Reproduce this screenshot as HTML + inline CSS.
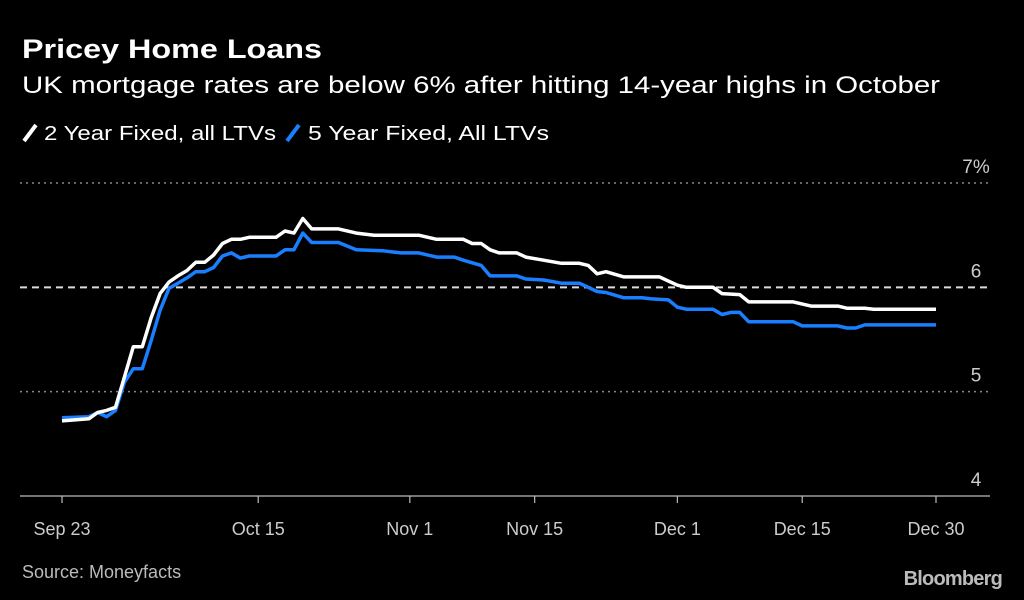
<!DOCTYPE html>
<html><head><meta charset="utf-8">
<style>
html,body{margin:0;padding:0;background:#000;}
svg{display:block;font-family:"Liberation Sans","DejaVu Sans",sans-serif;}
</style></head>
<body>
<svg id="chart" width="1024" height="600" viewBox="0 0 1024 600">
  <rect x="0" y="0" width="1024" height="600" fill="#000"/>
  <text x="22" y="58" fill="#fff" font-size="27" font-weight="bold" textLength="300" lengthAdjust="spacingAndGlyphs">Pricey Home Loans</text>
  <text x="22" y="93" fill="#fff" font-size="24" textLength="918" lengthAdjust="spacingAndGlyphs">UK mortgage rates are below 6% after hitting 14-year highs in October</text>
  <g>
    <g>
      <line x1="24" y1="141" x2="36" y2="125" stroke="#fff" stroke-width="4"/>
      <text x="44" y="140" fill="#fff" font-size="20" textLength="232" lengthAdjust="spacingAndGlyphs">2 Year Fixed, all LTVs</text>
    </g>
    <g>
      <line x1="287" y1="141" x2="299" y2="125" stroke="#1a7fff" stroke-width="4"/>
      <text x="308" y="140" fill="#fff" font-size="20" textLength="241" lengthAdjust="spacingAndGlyphs">5 Year Fixed, All LTVs</text>
    </g>
  </g>
  <g id="grid"></g>
  <g id="yaxis"></g>
  <g id="xaxis"></g>
  <g id="series"></g>
  <text x="22" y="578" fill="#bbb" font-size="18">Source: Moneyfacts</text>
  <text x="1002" y="585" fill="#bbb" font-size="20" font-weight="bold" text-anchor="end" letter-spacing="-0.8">Bloomberg</text>
</svg>
<script>
// Days since Sep 23
const twoYearDays = [0,3,4,5,6,7,8,9,10,11,12,13,14,15,16,17,18,19,20,21,24,25,26,27,28,31,33,35,40,42,45,46,47,48,49,51,52,54,56,58,59,60,61,63,67,68,69,70,73,74,76,77,82,84,87,88,90,91,98];
const twoYearValues = [4.72,4.74,4.80,4.82,4.85,5.14,5.43,5.43,5.71,5.94,6.05,6.11,6.16,6.24,6.24,6.31,6.42,6.46,6.46,6.48,6.48,6.54,6.52,6.66,6.56,6.56,6.52,6.50,6.50,6.46,6.46,6.42,6.42,6.36,6.33,6.33,6.29,6.26,6.23,6.23,6.21,6.13,6.15,6.10,6.10,6.06,6.02,6.00,6.00,5.94,5.93,5.86,5.86,5.82,5.82,5.80,5.80,5.79,5.79];
const fiveYearDays = [0,3,4,5,6,7,8,9,10,11,12,13,14,15,16,17,18,19,20,21,24,25,26,27,28,31,33,36,37,38,40,42,44,45,47,48,51,52,54,56,58,60,61,63,65,66,68,69,70,73,74,75,76,77,82,83,87,88,89,90,98];
const fiveYearValues = [4.75,4.76,4.80,4.76,4.82,5.09,5.22,5.22,5.49,5.78,5.99,6.04,6.09,6.15,6.15,6.19,6.30,6.33,6.28,6.30,6.30,6.36,6.36,6.52,6.43,6.43,6.36,6.35,6.34,6.33,6.33,6.29,6.29,6.26,6.21,6.11,6.11,6.08,6.07,6.04,6.04,5.96,5.95,5.90,5.90,5.89,5.88,5.81,5.79,5.79,5.74,5.76,5.76,5.67,5.67,5.63,5.63,5.61,5.61,5.64,5.64];
const yTicks = [4,5,6,7];
const yTickLabels = ["4","5","6","7%"];
const xTickDays = [0,22,39,53,69,83,98];
const xTickLabels = ["Sep 23","Oct 15","Nov 1","Nov 15","Dec 1","Dec 15","Dec 30"];

const X0=62, X1=936, D0=0, D1=98;
const Y0=496, Y1=183, V0=4, V1=7;
function xScale(d){return X0+(d-D0)/(D1-D0)*(X1-X0);}
function yScale(v){return Y0-(v-V0)/(V1-V0)*(Y0-Y1);}
const NS="http://www.w3.org/2000/svg";
const grid=document.getElementById('grid'), yaxis=document.getElementById('yaxis'), xaxis=document.getElementById('xaxis'), series=document.getElementById('series');

yTicks.forEach((t,i)=>{
  const y=yScale(t);
  const l=document.createElementNS(NS,'line');
  l.setAttribute('x1',20);l.setAttribute('x2',990);l.setAttribute('y1',y);l.setAttribute('y2',y);
  if(t===4){l.setAttribute('stroke','#bbb');l.setAttribute('stroke-width','1.2');}
  else if(t===6){l.setAttribute('stroke','#ddd');l.setAttribute('stroke-width','2');l.setAttribute('stroke-dasharray','7,5');}
  else {l.setAttribute('stroke','#888');l.setAttribute('stroke-width','1.5');l.setAttribute('stroke-dasharray','2,4');}
  
  
  grid.appendChild(l);
  const tx=document.createElementNS(NS,'text');
  tx.setAttribute('x',976);tx.setAttribute('y',y-10);
  tx.setAttribute('fill','#ccc');tx.setAttribute('font-size','19');tx.setAttribute('text-anchor','middle');
  tx.textContent=yTickLabels[i];
  
  
  yaxis.appendChild(tx);
});

xTickDays.forEach((d,i)=>{
  const x=xScale(d);
  const l=document.createElementNS(NS,'line');
  l.setAttribute('x1',x);l.setAttribute('x2',x);l.setAttribute('y1',496);l.setAttribute('y2',503);
  l.setAttribute('stroke','#bbb');l.setAttribute('stroke-width','1.2');
  
  
  xaxis.appendChild(l);
  const tx=document.createElementNS(NS,'text');
  tx.setAttribute('x',x);tx.setAttribute('y',535);
  tx.setAttribute('fill','#ccc');tx.setAttribute('font-size','18');tx.setAttribute('text-anchor','middle');
  tx.textContent=xTickLabels[i];
  
  
  xaxis.appendChild(tx);
});

function drawLine(days,vals,color,name){
  const p=document.createElementNS(NS,'polyline');
  p.setAttribute('points',days.map((d,i)=>xScale(d).toFixed(1)+','+yScale(vals[i]).toFixed(1)).join(' '));
  p.setAttribute('fill','none');p.setAttribute('stroke',color);p.setAttribute('stroke-width','3.5');
  p.setAttribute('stroke-linejoin','round');
  
  
  series.appendChild(p);
}
drawLine(fiveYearDays,fiveYearValues,'#1a7fff','line-5-year-fixed');
drawLine(twoYearDays,twoYearValues,'#ffffff','line-2-year-fixed');
</script>
</body></html>
